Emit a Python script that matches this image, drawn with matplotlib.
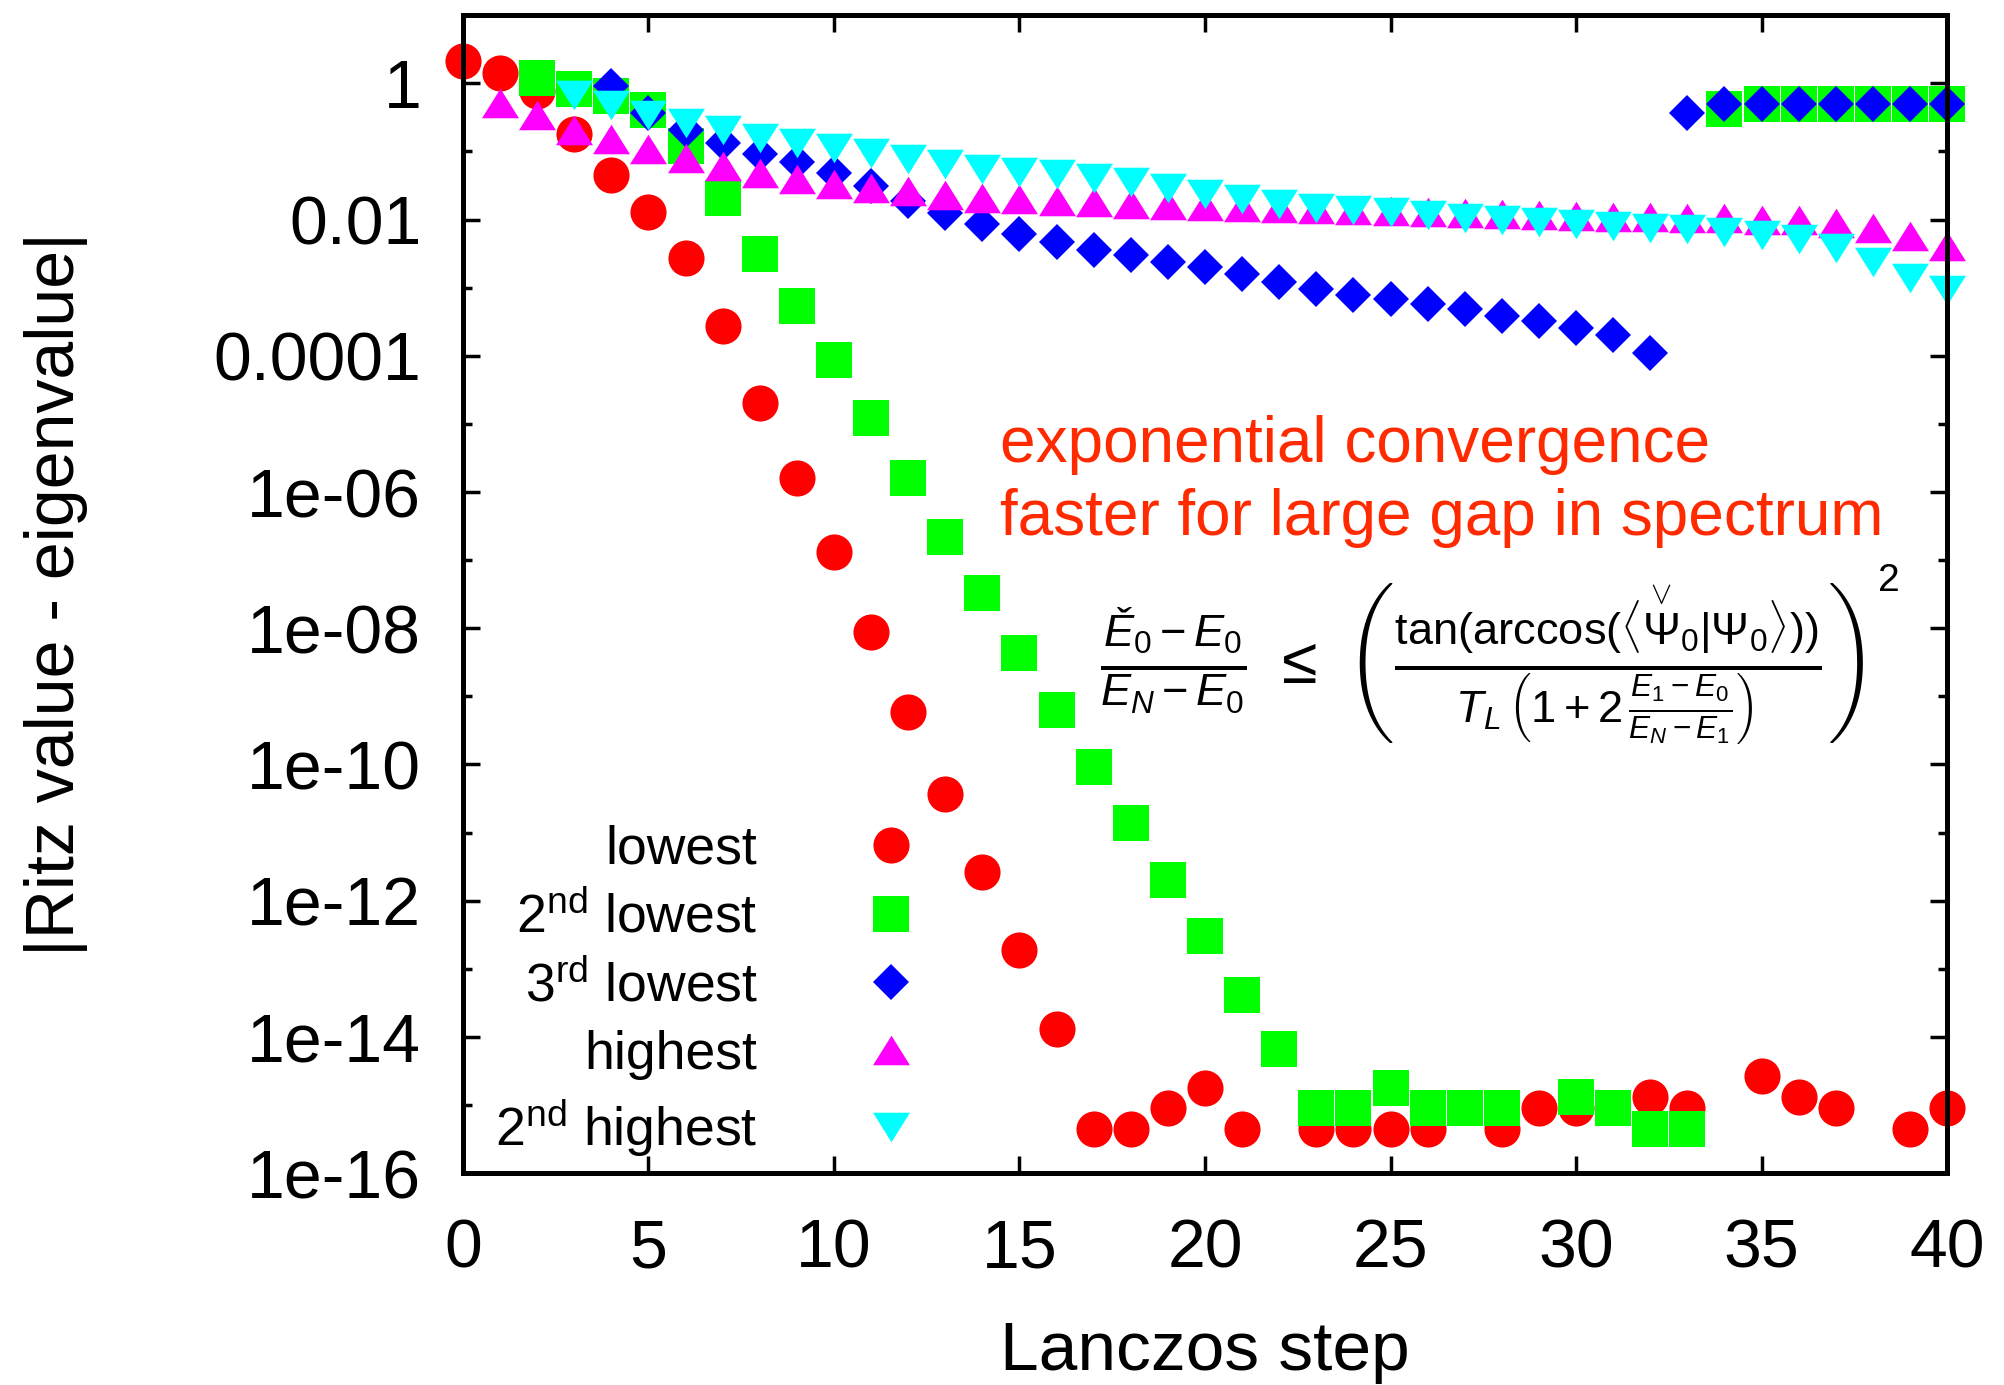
import numpy as np
import matplotlib
matplotlib.use("Agg")
import matplotlib.pyplot as plt
from matplotlib.ticker import FixedLocator, FixedFormatter, NullLocator, NullFormatter

plt.rcParams['font.family'] = ['Liberation Sans', 'DejaVu Sans']
plt.rcParams['mathtext.fontset'] = 'custom'
plt.rcParams['mathtext.rm'] = 'Liberation Sans'
plt.rcParams['mathtext.it'] = 'Liberation Sans:italic'
plt.rcParams['mathtext.bf'] = 'Liberation Sans:bold'

nan = np.nan
steps = np.arange(0, 41)

# |Ritz value - eigenvalue| per Lanczos step (nan = not shown)
lowest = [2.1, 1.4, 0.78, 0.18, 0.045, 0.013, 0.0027, 2.7e-4, 2.0e-5, 1.6e-6,
          1.3e-7, 8.7e-9, 5.9e-10, 3.7e-11, 2.6e-12, 1.9e-13, 1.3e-14, 4.4e-16, 4.4e-16, 8.9e-16,
          1.8e-15, 4.4e-16, nan, 4.4e-16, 4.4e-16, 4.4e-16, 4.4e-16, nan, 4.4e-16, 8.9e-16,
          8.9e-16, nan, 1.3e-15, 8.9e-16, nan, 2.7e-15, 1.3e-15, 8.9e-16, nan, 4.4e-16,
          8.9e-16]
lowest2 = [nan, nan, 1.2, 0.82, 0.65, 0.40, 0.12, 0.021, 3.1e-3, 5.3e-4,
           8.7e-5, 1.2e-5, 1.6e-6, 2.2e-7, 3.3e-8, 4.4e-9, 6.2e-10, 9.1e-11, 1.4e-11, 2.0e-12,
           3.0e-13, 4.1e-14, 6.7e-15, 8.9e-16, 8.9e-16, 1.8e-15, 8.9e-16, 8.9e-16, 8.9e-16, nan,
           1.3e-15, 8.9e-16, 4.4e-16, 4.4e-16, 0.42, 0.49, 0.49, 0.49, 0.49, 0.49,
           0.49]
lowest3 = [nan, nan, nan, nan, 0.9, 0.37, 0.21, 0.135, 0.093, 0.069,
           0.049, 0.031, 0.019, 0.0124, 0.0087, 0.0062, 0.0047, 0.0036, 0.0030, 0.0024,
           0.0020, 0.0016, 0.0012, 9.7e-4, 7.9e-4, 6.9e-4, 5.8e-4, 4.9e-4, 3.9e-4, 3.2e-4,
           2.6e-4, 2.0e-4, 1.1e-4, 0.37, 0.49, 0.49, 0.49, 0.49, 0.49, 0.49,
           0.49]
highest = [nan, 0.51, 0.34, 0.21, 0.15, 0.11, 0.081, 0.061, 0.049, 0.039,
           0.033, 0.029, 0.026, 0.023, 0.021, 0.020, 0.019, 0.018, 0.017, 0.0166,
           0.016, 0.0155, 0.0148, 0.0144, 0.0137, 0.0132, 0.0128, 0.0125, 0.0121, 0.0117,
           0.0114, 0.0110, 0.0108, 0.0106, 0.0104, 0.0100, 0.0097, 0.0088, 0.0074, 0.0057,
           0.0041]
highest2 = [nan, nan, nan, 0.68, 0.48, 0.34, 0.26, 0.21, 0.16, 0.134,
            0.112, 0.095, 0.077, 0.065, 0.056, 0.050, 0.046, 0.041, 0.036, 0.029,
            0.024, 0.020, 0.017, 0.015, 0.014, 0.0128, 0.0117, 0.0107, 0.0100, 0.0091,
            0.0085, 0.0081, 0.0076, 0.0072, 0.0066, 0.0060, 0.0052, 0.0038, 0.0024, 0.0014,
            0.00093]

labels = ['lowest', r'2$^{\rm nd}$ lowest', r'3$^{\rm rd}$ lowest', 'highest', r'2$^{\rm nd}$ highest']
colors = ['#ff0000', '#00ff00', '#0000ff', '#ff00ff', '#00ffff']

ytick_vals = [1, 1e-2, 1e-4, 1e-6, 1e-8, 1e-10, 1e-12, 1e-14, 1e-16]
ytick_labels = ['1', '0.01', '0.0001', '1e-06', '1e-08', '1e-10', '1e-12', '1e-14', '1e-16']
yminor_vals = [1e-1, 1e-3, 1e-5, 1e-7, 1e-9, 1e-11, 1e-13, 1e-15]
xtick_vals = [0, 5, 10, 15, 20, 25, 30, 35, 40]

tri_up = [(0, 0.8), (-1, -0.8), (1, -0.8), (0, 0.8)]
tri_dn = [(0, -0.8), (-1, 0.8), (1, 0.8), (0, -0.8)]
markers = ['o', 's', 'D', tri_up, tri_dn]
sizes = [26, 26.6, 18.3, 26.6, 26.6]

fig = plt.figure(figsize=(20.04, 13.85), dpi=100)
ax = fig.add_axes([0.231, 0.153, 0.7406, 0.836])

series = [lowest, lowest2, lowest3, highest, highest2]
for s, lab, c, m, ms in zip(series, labels, colors, markers, sizes):
    ax.plot(steps, s, linestyle='none', marker=m, markersize=ms, color=c,
            markeredgewidth=0, label=lab, clip_on=False)

ax.set_yscale('log')
ax.set_ylim(1e-16, 10)
ax.set_xlim(0, 40)
ax.yaxis.set_major_locator(FixedLocator(ytick_vals))
ax.yaxis.set_major_formatter(FixedFormatter(ytick_labels))
ax.yaxis.set_minor_locator(FixedLocator(yminor_vals))
ax.yaxis.set_minor_formatter(NullFormatter())
ax.xaxis.set_major_locator(FixedLocator(xtick_vals))
ax.xaxis.set_minor_locator(NullLocator())

for sp in ax.spines.values():
    sp.set_linewidth(3.6)
ax.tick_params(which='both', direction='in', top=True, right=True, width=2.5)
ax.tick_params(which='major', length=12, labelsize=49)
ax.tick_params(which='minor', length=6.5)
ax.tick_params(axis='y', which='major', pad=30)
ax.tick_params(axis='x', which='major', pad=32)

ax.set_xlabel('Lanczos step', fontsize=50, labelpad=28)
ax.set_ylabel('|Ritz value - eigenvalue|', fontsize=49, labelpad=90)

ax.text(0.362, 0.629, 'exponential convergence', transform=ax.transAxes,
        color='#ff2a00', fontsize=46, va='center', ha='left')
ax.text(0.362, 0.566, 'faster for large gap in spectrum', transform=ax.transAxes,
        color='#ff2a00', fontsize=46, va='center', ha='left')

formula = (r'$\frac{Ě_0 - E_0}{E_N - E_0}\ \leq\ '
           r'\left(\frac{\mathrm{tan}(\mathrm{arccos}(\langle {\overset{\vee}{\Psi}}_0 | \Psi_0 \rangle))}'
           r'{T_L\,\left(1+2\,\frac{E_1-E_0}{E_N-E_1}\right)}\right)$')
ax.text(0.687, 0.439, formula, transform=ax.transAxes, fontsize=46.5,
        va='center', ha='center')
ax.text(0.961, 0.511, '2', transform=ax.transAxes, fontsize=28,
        va='center', ha='center')

leg = ax.legend(loc='lower right', bbox_to_anchor=(0.3066, 0.012), frameon=False,
                markerfirst=False, numpoints=1, handlelength=1.0, handletextpad=2.0,
                labelspacing=0.33, borderpad=0, borderaxespad=0, fontsize=38.5)
for t in leg.get_texts():
    t.set_ha('right')

fig.savefig('out.png', dpi=100)
